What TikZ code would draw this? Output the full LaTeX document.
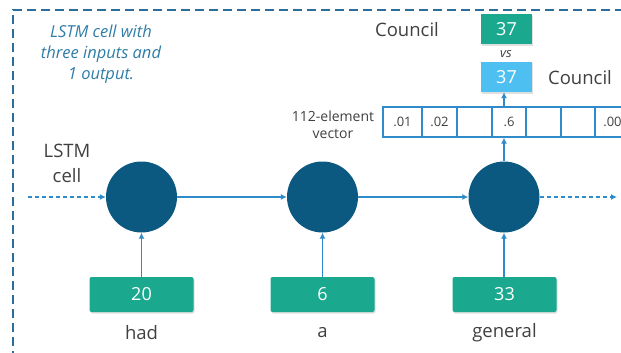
\documentclass[tikz,border=0pt]{standalone}
\usepackage{fontspec}
\setmainfont{Open Sans}
\usetikzlibrary{arrows.meta,shadows}
\definecolor{tokgreen}{HTML}{1AA98F}
\definecolor{predblue}{HTML}{4DBFF0}
\definecolor{celldark}{HTML}{0B5880}
\definecolor{linkblue}{HTML}{2F8BC9}
\definecolor{txtgray}{HTML}{404040}
\definecolor{notecol}{HTML}{2E7DA6}
\definecolor{framecol}{HTML}{2B6E9C}
\tikzset{
  lstm/.style={circle,fill=celldark,minimum size=71pt,inner sep=0pt},
  tokbox/.style={rectangle,rounded corners=2pt,fill=tokgreen,text=white,
    minimum width=104pt,minimum height=35pt,inner sep=0pt,font=\fontsize{18}{18}\selectfont,
    drop shadow={shadow xshift=1pt,shadow yshift=-1.5pt,opacity=0.25}},
  smallbox/.style={rectangle,text=white,minimum width=51pt,minimum height=30pt,
    inner sep=0pt,font=\fontsize{18}{18}\selectfont,
    drop shadow={shadow xshift=1pt,shadow yshift=-1.5pt,opacity=0.25}},
  label/.style={text=txtgray,font=\fontsize{18.5}{18.5}\selectfont,inner sep=0pt},
  vcell/.style={rectangle,draw=linkblue,line width=1.3pt,minimum height=30pt,
    inner sep=0pt,text=txtgray,font=\fontsize{13}{13}\selectfont},
  link/.style={draw=linkblue,line width=1.3pt,-{Latex[length=6pt,width=6pt]}},
  dlink/.style={link,dash pattern=on 4pt off 3pt},
}
\begin{document}
\begin{tikzpicture}[x=1pt,y=-1pt]
\useasboundingbox (0,0) rectangle (621,353);
\clip (0,0) rectangle (621,353);
% outer dashed frame
\draw[framecol,line width=1.4pt,dash pattern=on 9pt off 5pt] (13,360) -- (13,10) -- (630,10);
% note
\node[text=notecol,font=\itshape\fontsize{16.5}{21}\selectfont,align=center] (note) at (101,54)
  {LSTM cell with\\three inputs and\\1 output.};
% LSTM label
\node[label,align=center,font=\fontsize{18.5}{25}\selectfont] (lstmlab) at (67,163) {LSTM\\cell};
% cells
\node[lstm] (c1) at (141.5,197) {};
\node[lstm] (c2) at (322.5,197) {};
\node[lstm] (c3) at (504,197) {};
\coordinate (in) at (28,197);
\coordinate (out) at (617,197);
\draw[dlink] (in) -- (c1);
\draw[link] (c1) -- (c2);
\draw[link] (c2) -- (c3);
\draw[dlink] (c3) -- (out);
% token inputs
\node[tokbox] (t1) at (141.5,294.5) {20};
\node[tokbox] (t2) at (322.5,294.5) {6};
\node[tokbox] (t3) at (504.5,294.5) {33};
\node[label] (w1) at (141.5,333) {had};
\node[label] (w2) at (322.5,333) {a};
\node[label] (w3) at (504.5,333) {general};
\draw[link] (t1.north -| c1) -- (c1);
\draw[link] (t2.north -| c2) -- (c2);
\draw[link] (t3.north -| c3) -- (c3);
% output vector
\node[vcell,minimum width=39pt] (v1) at (402.5,122) {.01};
\node[vcell,minimum width=35pt] (v2) at (439.5,122) {.02};
\node[vcell,minimum width=35pt] (v3) at (474.5,122) {};
\node[vcell,minimum width=34pt] (v4) at (509,122) {.6};
\node[vcell,minimum width=35pt] (v5) at (543.5,122) {};
\node[vcell,minimum width=34pt] (v6) at (578,122) {};
\node[vcell,minimum width=35pt] (v7) at (612.5,122) {.00};
\node[label,align=center,font=\fontsize{14}{17}\selectfont] (vlab) at (333,125) {112-element\\vector};
\draw[link] (c3) -- (c3 |- v4.south);
% prediction vs target
\node[smallbox,fill=predblue] (pred) at (506.5,77) {37};
\node[smallbox,fill=tokgreen] (targ) at (506.5,29.5) {37};
\node[text=txtgray,font=\itshape\fontsize{13}{13}\selectfont] (vs) at (506,54) {vs};
\draw[link] (v4.north -| c3) -- (pred.south -| c3);
\node[label] (targlab) at (407,30) {Council};
\node[label] (predlab) at (580,78) {Council};
\end{tikzpicture}
\end{document}
